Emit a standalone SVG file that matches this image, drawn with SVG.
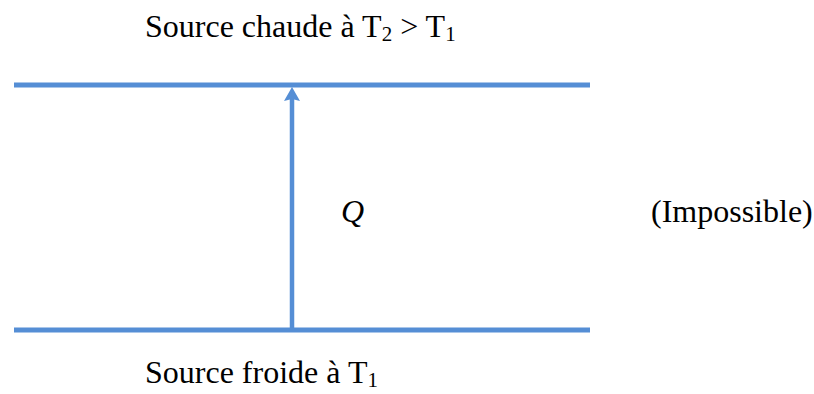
<svg xmlns="http://www.w3.org/2000/svg" width="814" height="394" viewBox="0 0 814 394">
<style>
.t{font-family:"Liberation Serif","Times New Roman",serif;font-size:32px;fill:#000}
.l{stroke:#558ED5;stroke-width:5;fill:none}
.sub{font-size:21px}
</style>
<rect width="814" height="394" fill="#fff"/>
<g id="hot">
<line class="l" x1="14" y1="85" x2="590" y2="85"/>
<text class="t" x="145" y="37">Source chaude à T<tspan class="sub" dy="4">2</tspan><tspan dy="-4"> &gt; T</tspan><tspan class="sub" dy="4">1</tspan></text>
</g>
<g id="cold">
<line class="l" x1="14" y1="330" x2="590" y2="330"/>
<text class="t" x="145" y="383">Source froide à T<tspan class="sub" dy="4">1</tspan></text>
</g>
<g id="connectors">
<line class="l" x1="292" y1="330" x2="292" y2="99" style="stroke-width:4.5"/>
<path d="M292,87 L300,101 L292,99 L284,101 Z" fill="#558ED5"/>
</g>
<g id="label-q">
<text class="t" x="341" y="222" font-style="italic">Q</text>
</g>
<g id="note">
<text class="t" x="651" y="222">(Impossible)</text>
</g>
</svg>
